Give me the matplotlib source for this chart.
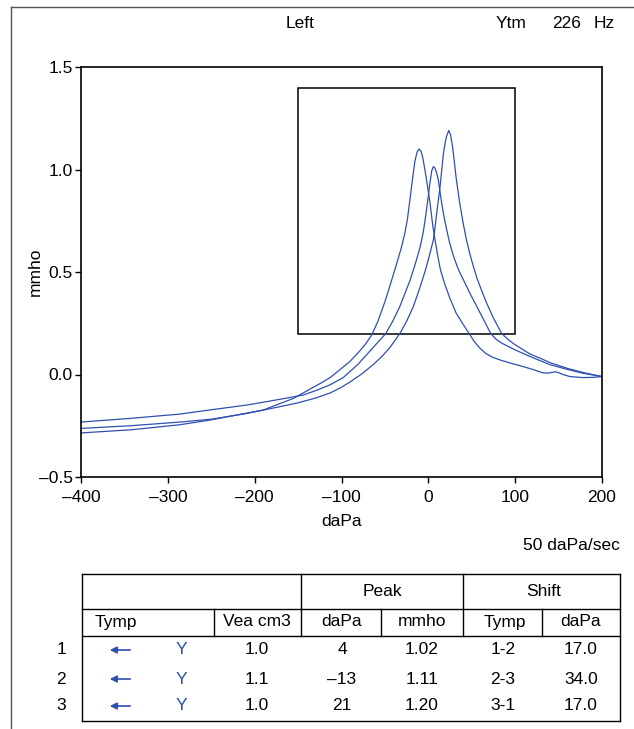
import matplotlib
matplotlib.use("Agg")
import matplotlib.pyplot as plt
from matplotlib.lines import Line2D
from matplotlib.patches import Rectangle, FancyArrowPatch
from matplotlib.ticker import FuncFormatter

plt.rcParams['font.family'] = ['Liberation Sans', 'DejaVu Sans']

W, H = 634, 729
BLUE = '#2f4fb0'
FS = 12.5

# tympanogram traces (daPa, mmho)
t1_x = [-400, -343, -286, -250, -209, -171, -144, -128, -113, -98, -81, -65, -49,
        -41, -33, -27, -21, -15, -9.6, -6, -3, 0, 2, 4, 5.8, 7.5, 9.5, 11.5, 15.4,
        18, 21.2, 24.2, 27, 30, 33, 36, 40, 48, 56, 64, 71.8, 78, 85, 100, 117, 140,
        160, 178, 200]
t1_y = [-0.232, -0.214, -0.193, -0.172, -0.149, -0.121, -0.100, -0.076, -0.05,
        -0.015, 0.05, 0.125, 0.20, 0.26, 0.33, 0.395, 0.46, 0.54, 0.62, 0.69, 0.775,
        0.87, 0.94, 0.995, 1.014, 1.008, 0.985, 0.949, 0.835, 0.77, 0.705, 0.648,
        0.605, 0.565, 0.53, 0.50, 0.465, 0.395, 0.33, 0.265, 0.20, 0.172, 0.152,
        0.12, 0.088, 0.048, 0.025, 0.006, -0.01]

t2_x = [-400, -343, -286, -251, -190, -155, -140, -125, -113, -100, -90, -80, -72,
        -65, -58, -50, -43, -36.5, -31, -27, -24, -21, -18, -15.5, -13, -10.7, -8.5,
        -6.5, -4, -1, 2, 5, 8, 11, 14, 19, 25, 32, 40, 47, 53, 59.5, 66, 74, 82.6,
        95, 105.6, 120, 132, 138, 142, 146, 150, 155, 163, 178, 190, 200]
t2_y = [-0.285, -0.27, -0.245, -0.222, -0.173, -0.116, -0.08, -0.045, -0.015, 0.03,
        0.065, 0.11, 0.15, 0.195, 0.26, 0.355, 0.45, 0.54, 0.62, 0.69, 0.76, 0.86,
        0.96, 1.04, 1.085, 1.10, 1.09, 1.06, 1.0, 0.92, 0.835, 0.73, 0.65, 0.575,
        0.51, 0.44, 0.37, 0.30, 0.245, 0.20, 0.16, 0.128, 0.103, 0.084, 0.071, 0.055,
        0.043, 0.025, 0.008, 0.007, 0.01, 0.013, 0.009, 0.0, -0.01, -0.015, -0.014,
        -0.01]

t3_x = [-400, -343, -286, -250, -209, -171, -150, -130, -113, -100, -90, -76, -63,
        -53, -44, -32.6, -25, -17.3, -10, -4, 0, 3, 5.8, 7.8, 9.6, 11.5, 13.5, 15.5,
        17.3, 19.3, 21.2, 23.5, 25.5, 27.2, 28.8, 32, 36, 40, 44, 48, 52, 56, 60, 67,
        75, 84.5, 92, 100, 117, 128.6, 140, 160, 178, 200]
t3_y = [-0.263, -0.25, -0.232, -0.218, -0.19, -0.157, -0.138, -0.115, -0.09, -0.062,
        -0.036, 0.005, 0.05, 0.09, 0.133, 0.201, 0.26, 0.331, 0.42, 0.50, 0.56, 0.61,
        0.656, 0.72, 0.786, 0.85, 0.916, 1.0, 1.075, 1.13, 1.165, 1.19, 1.17, 1.13,
        1.08, 0.96, 0.84, 0.74, 0.655, 0.585, 0.525, 0.47, 0.425, 0.35, 0.275, 0.20,
        0.17, 0.145, 0.10, 0.08, 0.058, 0.03, 0.01, -0.01]

x_ticks = [-400, -300, -200, -100, 0, 100, 200]
y_ticks = [-0.5, 0.0, 0.5, 1.0, 1.5]
# pressure / admittance window
win_x = [-150, 100]
win_y = [0.2, 1.4]

# results table
row_no = ['1', '2', '3']
vea = ['1.0', '1.1', '1.0']
peak_dapa = ['4', '\u201313', '21']
peak_mmho = ['1.02', '1.11', '1.20']
shift_pair = ['1-2', '2-3', '3-1']
shift_dapa = ['17.0', '34.0', '17.0']


def fx(px):
    return px / W


def fy(py):
    return 1 - py / H


fig = plt.figure(figsize=(W / 100, H / 100), dpi=100)

# outer frame (top + left)
fig.add_artist(Line2D([fx(11), fx(634)], [fy(7), fy(7)], color='#555555', lw=1))
fig.add_artist(Line2D([fx(11), fx(11)], [fy(7), fy(729)], color='#555555', lw=1))

fig.text(fx(300), fy(24), 'Left', ha='center', va='center', fontsize=FS)
fig.text(fx(511), fy(24), 'Ytm', ha='center', va='center', fontsize=FS)
fig.text(fx(567), fy(24), '226', ha='center', va='center', fontsize=FS)
fig.text(fx(604), fy(24), 'Hz', ha='center', va='center', fontsize=FS)

ax = fig.add_axes([fx(81), fy(477), (602 - 81) / W, (477 - 67) / H])
ax.add_patch(Rectangle((win_x[0], win_y[0]), win_x[1] - win_x[0], win_y[1] - win_y[0],
                       fill=False, ec='black', lw=1.1))
for xs, ys in [(t1_x, t1_y), (t2_x, t2_y), (t3_x, t3_y)]:
    ax.plot(xs, ys, color=BLUE, lw=0.9, solid_joinstyle='round')

ax.set_xlim(-400, 200)
ax.set_ylim(-0.5, 1.5)
ax.set_xticks(x_ticks)
ax.set_yticks(y_ticks)
ax.xaxis.set_major_formatter(FuncFormatter(lambda v, p: f'{v:.0f}'.replace('-', '\u2013')))
ax.yaxis.set_major_formatter(FuncFormatter(lambda v, p: f'{v:.1f}'.replace('-', '\u2013')))
ax.tick_params(direction='out', length=4, width=1, labelsize=FS)
ax.tick_params(axis='x', pad=5)
ax.tick_params(axis='y', pad=2)
for s in ax.spines.values():
    s.set_linewidth(1.2)
ax.set_xlabel('daPa', fontsize=FS, labelpad=7)
ax.set_ylabel('mmho', fontsize=FS, labelpad=-3)

fig.text(fx(620), fy(545), '50 daPa/sec', ha='right', va='center', fontsize=FS)

# table grid
L, R = 82, 620
for y in [574, 609, 636, 721]:
    fig.add_artist(Line2D([fx(L), fx(R)], [fy(y), fy(y)], color='black', lw=1))
for x in [L, R]:
    fig.add_artist(Line2D([fx(x), fx(x)], [fy(574), fy(721)], color='black', lw=1))
for x in [301, 463]:
    fig.add_artist(Line2D([fx(x), fx(x)], [fy(574), fy(636)], color='black', lw=1))
for x in [214, 381, 542]:
    fig.add_artist(Line2D([fx(x), fx(x)], [fy(609), fy(636)], color='black', lw=1))

fig.text(fx(382), fy(592), 'Peak', ha='center', va='center', fontsize=FS)
fig.text(fx(544), fy(592), 'Shift', ha='center', va='center', fontsize=FS)
fig.text(fx(95), fy(622), 'Tymp', ha='left', va='center', fontsize=FS)
for x, lab in [(257, 'Vea cm3'), (342, 'daPa'), (422, 'mmho'), (505, 'Tymp'), (581, 'daPa')]:
    fig.text(fx(x), fy(622), lab, ha='center', va='center', fontsize=FS)

row_y = [650, 679, 706]
for i, y in enumerate(row_y):
    fig.text(fx(66), fy(y), row_no[i], ha='right', va='center', fontsize=FS)
    fig.add_artist(FancyArrowPatch((fx(133), fy(y)), (fx(107), fy(y)),
                                   transform=fig.transFigure, arrowstyle='-|>',
                                   mutation_scale=10, color=BLUE, lw=1.2))
    fig.text(fx(181), fy(y), 'Y', ha='center', va='center', fontsize=FS, color=BLUE)
    fig.text(fx(257), fy(y), vea[i], ha='center', va='center', fontsize=FS)
    fig.text(fx(342), fy(y), peak_dapa[i], ha='center', va='center', fontsize=FS)
    fig.text(fx(422), fy(y), peak_mmho[i], ha='center', va='center', fontsize=FS)
    fig.text(fx(503), fy(y), shift_pair[i], ha='center', va='center', fontsize=FS)
    fig.text(fx(581), fy(y), shift_dapa[i], ha='center', va='center', fontsize=FS)

fig.savefig('out.png', dpi=100)
